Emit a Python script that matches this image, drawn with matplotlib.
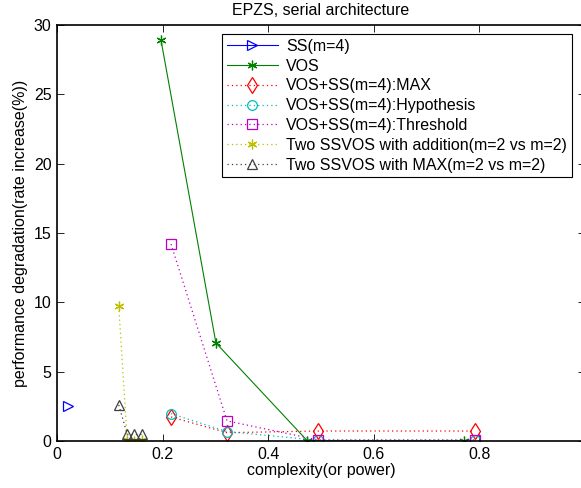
import matplotlib
matplotlib.use('Agg')
import matplotlib.pyplot as plt

plt.rcParams['font.family'] = ['Liberation Sans', 'DejaVu Sans']
plt.rcParams['font.size'] = 11.5

# data
ss_x = [0.021]
ss_y = [2.55]
vos_x = [0.197, 0.301, 0.474, 0.771]
vos_y = [28.9, 7.07, 0.02, 0.02]
vs_x = [0.216, 0.322, 0.494, 0.792]
max_y = [1.73, 0.6, 0.72, 0.72]
hyp_y = [1.97, 0.68, 0.05, 0.05]
thr_y = [14.2, 1.45, 0.08, 0.08]
two_x = [0.117, 0.133, 0.146, 0.161]
add_y = [9.7, 0.07, 0.02, 0.05]
tmax_y = [2.6, 0.47, 0.47, 0.47]

labels = ['SS(m=4)', 'VOS', 'VOS+SS(m=4):MAX', 'VOS+SS(m=4):Hypothesis',
          'VOS+SS(m=4):Threshold', 'Two SSVOS with addition(m=2 vs m=2)',
          'Two SSVOS with MAX(m=2 vs m=2)']

fig = plt.figure(figsize=(5.81, 4.88), dpi=100)
ax = fig.add_axes([57/581, 47/488, 528/581, 416/488])

ast = (6, 2, 0)
dots = (0, (1, 2.5))
ax.plot(ss_x, ss_y, '-', color='b', marker='>', mfc='none', ms=7, mew=0.9, lw=0.8, label=labels[0])
ax.plot(vos_x, vos_y, '-', color=(0, 0.5, 0), marker=ast, ms=7, mew=0.9, lw=0.8, label=labels[1])
ax.plot(vs_x, max_y, ls=dots, color='r', marker='d', mfc='none', ms=8, mew=0.9, lw=0.9, label=labels[2])
ax.plot(vs_x, hyp_y, ls=dots, color='c', marker='o', mfc='none', ms=7, mew=0.9, lw=0.9, label=labels[3])
ax.plot(vs_x, thr_y, ls=dots, color='m', marker='s', mfc='none', ms=7, mew=0.9, lw=0.9, label=labels[4])
ax.plot(two_x, add_y, ls=dots, color=(0.75, 0.75, 0), marker=ast, ms=7, mew=0.9, lw=0.9, label=labels[5])
ax.plot(two_x, tmax_y, ls=dots, color=(0.25, 0.25, 0.25), marker='^', mfc='none', ms=7, mew=0.9, lw=0.9, label=labels[6])

ax.set_xlim(0, 1)
ax.set_ylim(0, 30)
ax.set_xticks([0, 0.2, 0.4, 0.6, 0.8])
ax.set_xticklabels(['0', '0.2', '0.4', '0.6', '0.8'])
ax.set_yticks([0, 5, 10, 15, 20, 25, 30])
ax.tick_params(direction='in', top=True, right=True, length=5, width=0.6, labelsize=11.5, pad=4)
for s in ax.spines.values():
    s.set_linewidth(1.2)

ax.set_title('EPZS, serial architecture', fontsize=11.5, pad=7)
ax.set_xlabel('complexity(or power)', fontsize=11.5, labelpad=1)
ax.set_ylabel('performance degradation(rate increase(%))', fontsize=11.5, labelpad=4)

leg = ax.legend(loc='upper left', bbox_to_anchor=((222-57)/528, (441-34)/416),
                fancybox=False, framealpha=1, edgecolor='k', fontsize=11.5,
                handlelength=3.2, labelspacing=0.3, borderpad=0.3,
                handletextpad=0.5, borderaxespad=0)
leg.get_frame().set_linewidth(0.8)

fig.savefig('out.png', dpi=100)
